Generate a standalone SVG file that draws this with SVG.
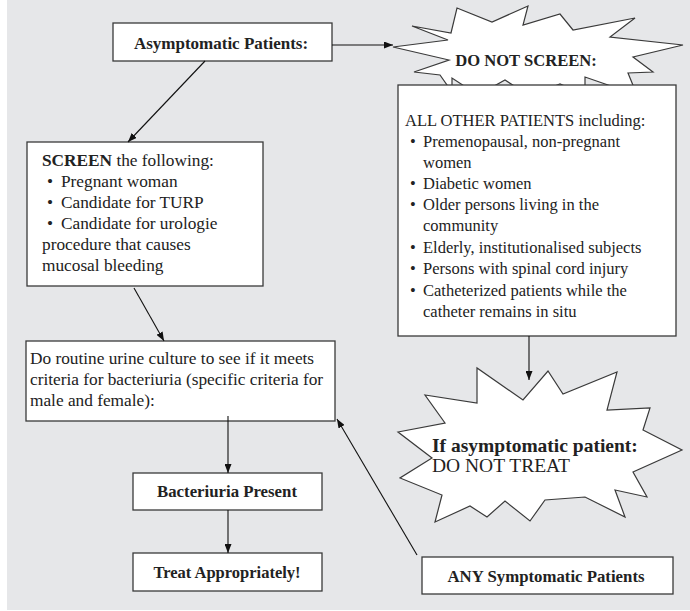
<svg xmlns="http://www.w3.org/2000/svg" width="690" height="611" viewBox="0 0 690 611">
<defs>
<marker id="ah" viewBox="0 0 9 7" refX="9" refY="3.5" markerWidth="9" markerHeight="7" markerUnits="userSpaceOnUse" orient="auto">
<path d="M0,0 L9,3.5 L0,7 z" fill="#111"/>
</marker>
<style>
.box{fill:#fff;stroke:#3a3a3a;stroke-width:1.3}
.star{fill:#fff;stroke:#3a3a3a;stroke-width:1.2;stroke-linejoin:miter}
.t{font-family:"Liberation Serif","Times New Roman",serif;fill:#222}
.b{font-weight:bold}
.c{text-anchor:middle}
.con{stroke:#111;stroke-width:1.1;fill:none;marker-end:url(#ah)}
</style>
</defs>
<rect x="7" y="0" width="683" height="610" fill="#e6e7e9"/>

<g id="asymptomatic">
<rect class="box" x="113" y="23" width="219" height="38"/>
<text class="t b c" x="221" y="49" font-size="17">Asymptomatic Patients:</text>
</g>

<g id="do-not-screen">
<polygon class="star" points="393,47 448,40 412,26 451,33 457,8 492,22 528,6 523,25 560,14 573,30 635,18 610,37 683,45 633,57 653,72 628,73 637,95 585,77 585,95 560,84 530,96 505,80 478,95 452,78 452,92 440,75 414,72 449,60"/>
<text class="t b c" x="526" y="66" font-size="16.6">DO NOT SCREEN:</text>
</g>

<g id="all-other" font-size="16.5">
<rect class="box" x="398" y="85" width="278" height="251"/>
<text class="t" x="405" y="126">ALL OTHER PATIENTS including:</text>
<text class="t" x="410" y="147">•</text><text class="t" x="423" y="147">Premenopausal, non-pregnant</text>
<text class="t" x="423" y="168">women</text>
<text class="t" x="410" y="189">•</text><text class="t" x="423" y="189">Diabetic women</text>
<text class="t" x="410" y="210">•</text><text class="t" x="423" y="210">Older persons living in the</text>
<text class="t" x="423" y="231">community</text>
<text class="t" x="410" y="253">•</text><text class="t" x="423" y="253">Elderly, institutionalised subjects</text>
<text class="t" x="410" y="274">•</text><text class="t" x="423" y="274">Persons with spinal cord injury</text>
<text class="t" x="410" y="296">•</text><text class="t" x="423" y="296">Catheterized patients while the</text>
<text class="t" x="423" y="317">catheter remains in situ</text>
</g>

<g id="screen" font-size="17.3">
<rect class="box" x="27" y="142" width="236" height="144"/>
<text class="t" x="42" y="166"><tspan class="b">SCREEN</tspan> the following:</text>
<text class="t" x="47" y="187">•</text><text class="t" x="61" y="187">Pregnant woman</text>
<text class="t" x="47" y="208">•</text><text class="t" x="61" y="208">Candidate for TURP</text>
<text class="t" x="47" y="229">•</text><text class="t" x="61" y="229">Candidate for urologie</text>
<text class="t" x="42" y="250">procedure that causes</text>
<text class="t" x="42" y="271">mucosal bleeding</text>
</g>

<g id="urine-culture" font-size="17.3">
<rect class="box" x="26" y="341" width="309" height="80"/>
<text class="t" x="30" y="364">Do routine urine culture to see if it meets</text>
<text class="t" x="30" y="385">criteria for bacteriuria (specific criteria for</text>
<text class="t" x="30" y="406">male and female):</text>
</g>

<g id="bacteriuria">
<rect class="box" x="133" y="473" width="189" height="37"/>
<text class="t b c" x="227" y="497" font-size="16.8">Bacteriuria Present</text>
</g>

<g id="treat">
<rect class="box" x="133" y="553" width="189" height="38"/>
<text class="t b c" x="227" y="578" font-size="16.5">Treat Appropriately!</text>
</g>

<g id="do-not-treat">
<polygon class="star" points="398,432 445,423 425,395 477,403 477,368 523,400 548,371 563,394 617,372 607,410 650,408 643,430 682,450 633,472 647,497 615,490 625,517 585,497 545,500 530,521 505,501 487,517 470,506 435,522 442,495 400,478 432,458"/>
<text class="t b" x="432" y="452" font-size="19.5">If asymptomatic patient:</text>
<text class="t" x="432" y="472" font-size="19.5">DO NOT TREAT</text>
</g>

<g id="any-symptomatic">
<rect class="box" x="422" y="557" width="251" height="37"/>
<text class="t b c" x="546" y="582" font-size="16.8">ANY Symptomatic Patients</text>
</g>

<g id="connectors">
<line class="con" x1="332" y1="45" x2="393" y2="45"/>
<line class="con" x1="205" y1="61" x2="128" y2="142"/>
<line class="con" x1="134" y1="288" x2="164" y2="341"/>
<line class="con" x1="228" y1="416" x2="228" y2="473"/>
<line class="con" x1="228" y1="510" x2="228" y2="553"/>
<line class="con" x1="529" y1="336" x2="529" y2="380"/>
<line class="con" x1="417" y1="555" x2="337" y2="419"/>
</g>
</svg>
